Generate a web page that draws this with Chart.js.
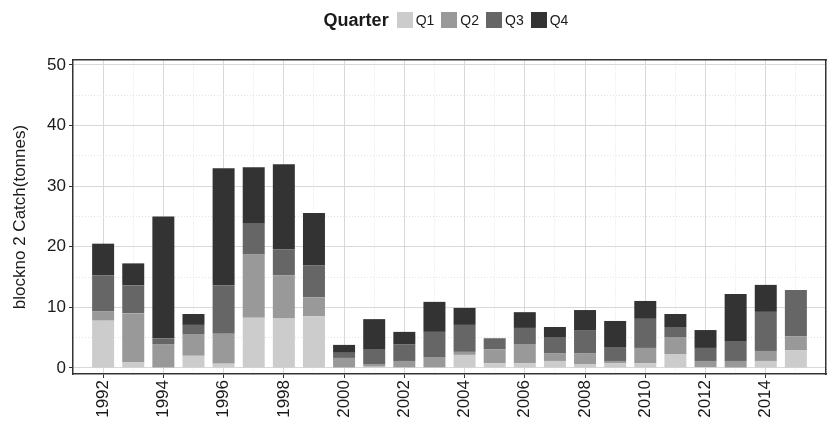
<!DOCTYPE html>
<html>
<head>
<meta charset="utf-8">
<script src="https://cdn.jsdelivr.net/npm/chart.js@4"></script>
<style>
  html, body { margin: 0; padding: 0; background: #fff; }
  #wrap { position: relative; width: 827px; height: 424px; }
  #graphics { position: absolute; left: 0; top: 0; }
  #legend {
    position: absolute; top: 11px; left: 73px; right: 1px; height: 18px;
    display: flex; justify-content: center; align-items: center;
    font-family: "Liberation Sans", Arial, sans-serif; font-size: 14px; color: #1a1a1a;
  }
  #legend .ttl { font-weight: bold; font-size: 18px; margin-right: 8px; }
  #legend .sw { width: 16px; height: 16px; margin-right: 3px; }
  #legend .lb { margin-right: 7px; }
</style>
</head>
<body>
<div id="wrap">
  <canvas id="graphics" width="827" height="424"></canvas>
  <div id="legend"></div>
</div>
<script>
// catch per year, split by quarter (tonnes)
const years = [1992, 1993, 1994, 1995, 1996, 1997, 1998, 1999, 2000, 2001, 2002, 2003,
               2004, 2005, 2006, 2007, 2008, 2009, 2010, 2011, 2012, 2013, 2014, 2015];
const q1 = [7.8, 0.9, 0, 2.0, 0.7, 8.3, 8.15, 8.5, 0, 0.2, 0.1, 0.1,
            2.15, 0.8, 0.8, 1.15, 0.65, 0.8, 0.8, 2.3, 0.15, 0, 1.15, 2.95];
const q2 = [1.5, 8.1, 3.85, 3.6, 4.95, 10.4, 7.1, 3.15, 1.65, 0.45, 1.05, 1.7,
            0.5, 2.3, 3.15, 1.3, 1.8, 0.35, 2.5, 2.8, 1.0, 1.15, 1.65, 2.3];
const q3 = [6.0, 4.6, 1.0, 1.5, 7.95, 5.1, 4.3, 5.3, 0.85, 2.35, 2.7, 4.15,
            4.45, 1.8, 2.65, 2.65, 3.8, 2.3, 4.8, 1.65, 2.15, 3.15, 6.45, 7.6];
const q4 = [5.2, 3.65, 20.15, 1.8, 19.35, 9.3, 14.05, 8.6, 1.3, 5.05, 2.1, 4.95,
            2.8, 0, 2.6, 1.65, 3.3, 4.3, 2.95, 2.15, 2.95, 7.9, 4.45, 0];

const quarters = ['Q1', 'Q2', 'Q3', 'Q4'];
const greys = ['#cccccc', '#999999', '#666666', '#333333'];

const yearTicks = [1992, 1994, 1996, 1998, 2000, 2002, 2004, 2006, 2008, 2010, 2012, 2014];
const yearMinor = [1993, 1995, 1997, 1999, 2001, 2003, 2005, 2007, 2009, 2011, 2013, 2015];
const catchTicks = [0, 10, 20, 30, 40, 50];
const catchMinor = [5, 15, 25, 35, 45];

const font = "'Liberation Sans', Arial, sans-serif";
const frame = '#333333';
const major = '#d9d9d9';
const minor = '#e2e2e2';

const toTicks = arr => arr.map(v => ({ value: v }));

const datasets = [q1, q2, q3, q4].map((vals, i) => ({
    label: quarters[i],
    data: vals.map((v, j) => ({ x: years[j], y: v })),
    backgroundColor: greys[i],
    borderWidth: 0,
    barPercentage: 0.73,
    categoryPercentage: 1.0
}));

var ctx = document.getElementById('graphics').getContext('2d');
var myChart = new Chart(ctx, {
    type: 'bar',
    data: { datasets: datasets },
    options: {
        responsive: false,
        animation: false,
        layout: { padding: { top: 60, right: 1, left: 0, bottom: 0 } },
        plugins: { legend: { display: false }, tooltip: { enabled: false } },
        scales: {
            x: {
                type: 'linear', stacked: true, min: 1991, max: 2016, offset: false,
                afterBuildTicks: s => { s.ticks = toTicks(yearTicks); },
                afterFit: s => { s.height = 50; },
                grid: { offset: false, color: major, lineWidth: 1, tickLength: 4, tickColor: frame, tickWidth: 1 },
                border: { display: true, color: frame, width: 1.5 },
                ticks: {
                    autoSkip: false, minRotation: 90, maxRotation: 90, padding: 2,
                    color: '#1a1a1a', font: { family: font, size: 17 },
                    callback: v => String(v)
                }
            },
            xm: {
                type: 'linear', position: 'top', min: 1991, max: 2016, offset: false,
                afterBuildTicks: s => { s.ticks = toTicks(yearMinor); },
                afterFit: s => { s.height = 0; },
                grid: { offset: false, color: minor, lineWidth: 1, drawTicks: false },
                border: { display: true, color: frame, width: 1.5, dash: [1, 2] },
                ticks: { display: false }
            },
            y: {
                type: 'linear', stacked: true, min: -1.0, max: 50.8,
                afterBuildTicks: s => { s.ticks = toTicks(catchTicks); },
                afterFit: s => { s.width = 73; },
                grid: { color: major, lineWidth: 1, tickLength: 4, tickColor: frame, tickWidth: 1 },
                border: { display: true, color: frame, width: 1.5 },
                ticks: { padding: 3, color: '#1a1a1a', font: { family: font, size: 17 } },
                title: {
                    display: true, text: 'blockno 2 Catch(tonnes)', color: '#1a1a1a',
                    font: { family: font, size: 17 }, padding: { top: 10, bottom: 0 }
                }
            },
            ym: {
                type: 'linear', position: 'right', min: -1.0, max: 50.8,
                afterBuildTicks: s => { s.ticks = toTicks(catchMinor); },
                afterFit: s => { s.width = 0; },
                grid: { color: minor, lineWidth: 1, drawTicks: false },
                border: { display: true, color: frame, width: 1.5, dash: [1, 2] },
                ticks: { display: false }
            }
        }
    }
});

// legend row: bold title followed by the quarter swatches
let lg = document.getElementById('legend');
let html = '<span class="ttl">Quarter</span>';
myChart.data.datasets.forEach(ds => {
    html += '<span class="sw" style="background:' + ds.backgroundColor + '"></span>' +
            '<span class="lb">' + ds.label + '</span>';
});
lg.innerHTML = html;
</script>
</body>
</html>
